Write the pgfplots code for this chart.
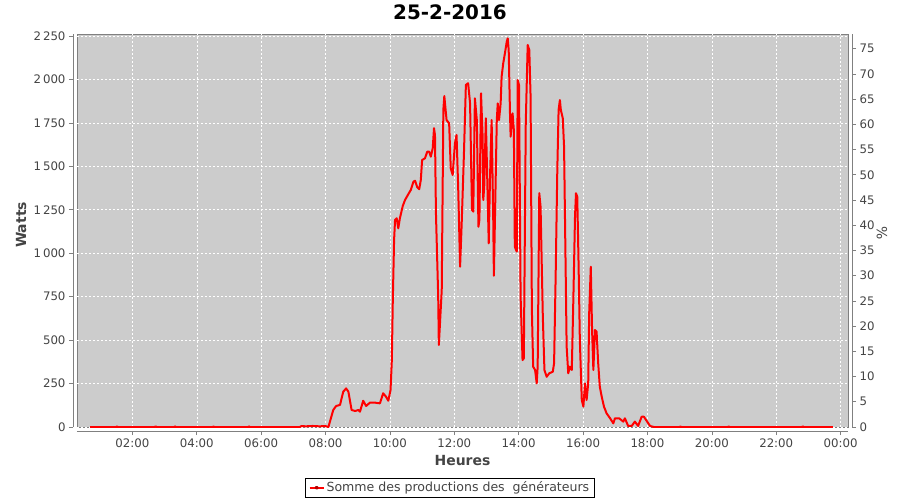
\documentclass[border=0pt]{standalone}
\usepackage{pgfplots}
\pgfplotsset{compat=1.18}
\usepackage{pgfplotstable}
\usepackage{fontspec}
\setmainfont{DejaVu Sans}
\definecolor{plotbg}{RGB}{204,204,204}
\definecolor{axgray}{RGB}{128,128,128}
\definecolor{txtgray}{RGB}{68,68,68}

\pgfplotstableread{
t w
0.69 0
1.50 0
1.52 3
1.55 0
2.70 0
2.72 4
2.75 0
3.30 0
3.32 4
3.35 0
4.50 0
4.52 3
4.55 0
5.60 0
5.62 4
5.65 0
7.20 0
7.25 5
7.40 4
7.60 6
7.80 4
8.00 5
8.09 0
8.24 98
8.33 121
8.45 127
8.55 203
8.64 222
8.71 203
8.81 98
8.92 92
9.02 98
9.07 88
9.17 151
9.26 121
9.38 140
9.54 140
9.69 136
9.79 194
9.88 174
9.95 151
10.02 213
10.06 385
10.09 731
10.13 1076
10.16 1191
10.21 1201
10.26 1143
10.31 1201
10.40 1272
10.47 1306
10.57 1339
10.65 1364
10.73 1411
10.78 1417
10.85 1379
10.91 1368
10.96 1421
11.00 1536
11.09 1546
11.16 1584
11.22 1584
11.27 1555
11.33 1603
11.37 1719
11.40 1680
11.43 1231
11.50 750
11.52 472
11.61 788
11.66 1824
11.69 1904
11.76 1766
11.84 1747
11.89 1488
11.95 1450
12.02 1632
12.07 1680
12.12 1383
12.18 922
12.23 1172
12.30 1575
12.36 1968
12.43 1978
12.49 1862
12.55 1249
12.59 1239
12.64 1891
12.70 1766
12.75 1152
12.78 1191
12.83 1920
12.88 1670
12.90 1306
12.93 1383
12.98 1776
13.07 1057
13.11 1440
13.16 1766
13.21 1191
13.23 870
13.32 1766
13.35 1862
13.39 1766
13.44 1862
13.47 2015
13.52 2092
13.58 2159
13.63 2217
13.66 2236
13.69 2169
13.73 1805
13.75 1670
13.81 1805
13.85 1709
13.88 1037
13.94 1009
13.97 1996
14.01 1968
14.06 750
14.12 385
14.16 395
14.22 1747
14.28 2198
14.33 2169
14.37 1900
14.41 673
14.45 347
14.51 328
14.56 251
14.59 347
14.64 1345
14.68 1268
14.75 635
14.80 328
14.87 289
14.95 309
15.06 318
15.10 367
15.15 884
15.20 1479
15.24 1824
15.28 1881
15.31 1824
15.37 1776
15.41 1613
15.45 1037
15.49 462
15.54 309
15.59 347
15.65 328
15.70 750
15.75 1210
15.78 1345
15.82 1325
15.86 942
15.90 501
15.96 155
16.01 117
16.06 251
16.11 155
16.16 251
16.19 654
16.24 922
16.28 558
16.32 328
16.37 558
16.42 548
16.47 367
16.52 232
16.58 174
16.65 117
16.73 79
16.84 50
16.94 21
16.99 50
17.12 50
17.25 31
17.30 50
17.40 6
17.51 6
17.61 31
17.71 6
17.82 59
17.89 59
17.99 31
18.08 6
18.20 0
19.00 0
19.02 3
19.05 0
20.50 0
20.52 3
20.55 0
22.80 0
22.82 4
22.85 0
23.76 0
}\prodtable

\begin{document}
\begin{tikzpicture}
\path[use as bounding box] (-77bp,-73bp) rectangle (823bp,427bp);
\begin{axis}[
  at={(0,0)}, anchor=south west,
  scale only axis, width=771bp, height=393bp,
  xmin=0.28, xmax=24.23, ymin=0, ymax=2261,
  axis x line*=bottom, axis y line*=left,
  axis x line shift=4bp, axis y line shift=4bp,
  axis line style={draw=axgray, line width=0.8bp, -},
  axis background/.style={fill=plotbg, draw=axgray, line width=0.8bp},
  tick align=outside, major tick length=4bp,
  every tick/.style={axgray, line width=0.6bp},
  xtick={2,4,...,24},
  xticklabels={02:00,04:00,06:00,08:00,10:00,12:00,14:00,16:00,18:00,20:00,22:00,00:00},
  ytick={0,250,...,2250},
  grid=major,
  major grid style={white, line width=0.5bp, dash pattern=on 2bp off 2bp},
  ticklabel style={font=\fontsize{11.8}{13}\selectfont, text=txtgray},
  yticklabel style={/pgf/number format/.cd, 1000 sep={\,}, assume math mode=true},
  xlabel={Heures},
  ylabel={Watts},
  xlabel style={font=\bfseries\fontsize{14}{16}\selectfont, text=txtgray, at={(axis description cs:0.5,-0.0852)}, anchor=center},
  ylabel style={font=\bfseries\fontsize{14}{16}\selectfont, text=txtgray, at={(axis description cs:-0.0726,0.514)}, anchor=center},
  title={25-2-2016},
  every axis title shift=0pt,
  title style={font=\bfseries\fontsize{20}{22}\selectfont, at={(axis description cs:0.4838,1.0547)}, anchor=center},
  legend style={at={(axis description cs:0.4838,-0.1545)}, anchor=center, draw=black, line width=0.8bp,
    font=\fontsize{12.6}{14}\selectfont, text=txtgray, inner xsep=3bp, inner ysep=1.5bp},
  legend image code/.code={\draw[red, line width=1.8bp] (0bp,0bp) -- (14bp,0bp); \fill[red!70!black] (7bp,0bp) circle (1bp);},
]
\addplot[red, line width=2bp, line join=round, no markers] table[x=t, y=w] {\prodtable};
\addlegendentry{Somme des productions des~~générateurs}
\end{axis}
\begin{axis}[
  at={(0,0)}, anchor=south west,
  scale only axis, width=771bp, height=393bp,
  xmin=0.28, xmax=24.23, ymin=0, ymax=77.9,
  axis x line=none, axis y line*=right,
  axis y line shift=4bp,
  axis line style={draw=axgray, line width=0.8bp, -},
  tick align=outside, major tick length=4bp,
  every tick/.style={axgray, line width=0.6bp},
  ytick={0,5,...,75},
  ticklabel style={font=\fontsize{11.8}{13}\selectfont, text=txtgray},
  yticklabel style={/pgf/number format/assume math mode=true},
  ylabel={\%},
  ylabel style={font=\fontsize{14}{16}\selectfont, text=txtgray, at={(axis description cs:1.044,0.494)}, anchor=center, rotate=180},
]
\end{axis}
\end{tikzpicture}
\end{document}
